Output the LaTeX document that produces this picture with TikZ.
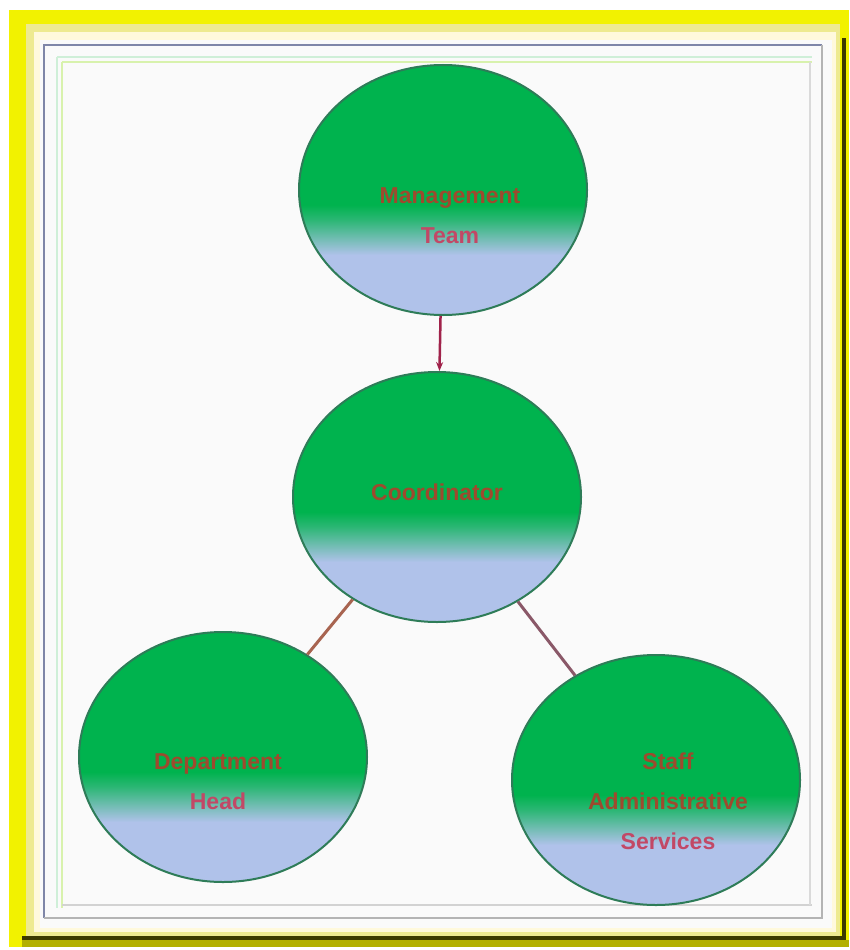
\documentclass[tikz,border=0pt]{standalone}
\usepackage{fontspec}
\setmainfont{Liberation Sans}
\usetikzlibrary{shapes.geometric,arrows.meta}
\definecolor{frameyellow}{HTML}{F2F200}
\definecolor{paleyellow}{HTML}{EEEA90}
\definecolor{cream}{HTML}{FFF9DC}
\definecolor{darkolive}{HTML}{3C3A00}
\definecolor{olive}{HTML}{B2B000}
\definecolor{paper}{HTML}{FAFAFA}
\definecolor{bluegray}{HTML}{7F86A8}
\definecolor{lightgray}{HTML}{B4B4B4}
\definecolor{palegreen}{HTML}{CFEFD8}
\definecolor{nodegreen}{HTML}{00B34E}
\definecolor{nodeblue}{HTML}{B0C2EA}
\definecolor{edgegreen}{HTML}{2E7C58}
\definecolor{txtbrown}{HTML}{9E4A2E}
\definecolor{txtpink}{HTML}{C24866}
\definecolor{arrowred}{HTML}{A0224A}
\definecolor{linkbrown}{HTML}{A86450}
\definecolor{linkplum}{HTML}{8A5868}
\pgfdeclareverticalshading{bubble}{100bp}{color(0bp)=(nodeblue); color(25bp)=(nodeblue); color(37bp)=(nodeblue); color(44bp)=(nodegreen!75!nodeblue); color(47bp)=(nodegreen); color(100bp)=(nodegreen)}
\tikzset{
  bubble/.style={ellipse, minimum width=288pt, minimum height=250pt, inner sep=0pt,
    shading=bubble, draw=edgegreen, line width=2pt},
  label/.style={font=\fontsize{23}{40}\selectfont\bfseries, align=center, inner sep=0pt},
}
\begin{document}
\begin{tikzpicture}[x=1pt,y=-1pt]
\useasboundingbox (0,0) rectangle (849,950);
% frame
\fill[white] (0,0) rectangle (849,950);
\fill[frameyellow] (9,10) rectangle (849,947);
\fill[paleyellow] (26,24) rectangle (840,936);
\fill[cream] (34,32) rectangle (836,932);
\fill[paper] (40,40) rectangle (832,928);
\fill[darkolive] (842,38) rectangle (846,940);
\fill[darkolive] (22,936) rectangle (846,940);
\fill[olive] (22,940) rectangle (849,947);
\draw[palegreen, line width=1.5pt] (57,57) -- (812,57);
\draw[palegreen!80!yellow, line width=1.5pt] (62,62) -- (812,62);
\draw[palegreen, line width=1.5pt] (57,57) -- (57,908);
\draw[palegreen!80!yellow, line width=1.5pt] (62,62) -- (62,908);
\draw[lightgray!60, line width=1.5pt] (62,905) -- (812,905);
\draw[lightgray!50, line width=1.5pt] (810,62) -- (810,905);
\draw[bluegray, line width=2.5pt] (44,918) -- (44,45) -- (822,45);
\draw[lightgray, line width=2.5pt] (822,45) -- (822,918) -- (44,918);
% nodes
\node[bubble] (top) at (443,190) {};
\node[bubble] (mid) at (437,497) {};
\node[bubble] (bl) at (223,757) {};
\node[bubble] (br) at (656,780) {};
\node[label] (toptext) at (450,216) {\textcolor{txtbrown}{Management}\\\textcolor{txtpink}{Team}};
\node[label] (midtext) at (437,492) {\textcolor{txtbrown}{Coordinator}};
\node[label] (bltext) at (218,782) {\textcolor{txtbrown}{Department}\\\textcolor{txtpink}{Head}};
\node[label] (brtext) at (668,801) {\textcolor{txtbrown}{Staff}\\\textcolor{txtbrown}{Administrative}\\\textcolor{txtpink}{Services}};
% connectors
\draw[arrowred, line width=2.5pt, -{Stealth[length=9pt,width=7pt]}] (top) -- (mid);
\draw[linkbrown, line width=3pt] (mid) -- (bl);
\draw[linkplum, line width=3pt] (mid) -- (br);
\end{tikzpicture}
\end{document}
